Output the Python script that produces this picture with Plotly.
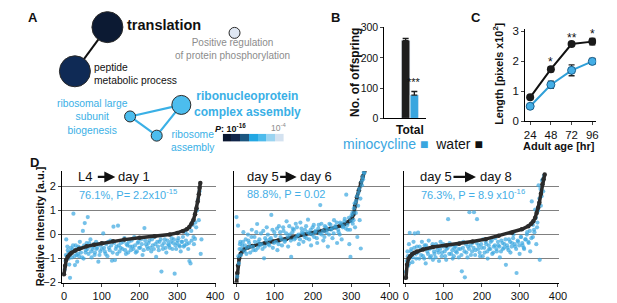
import plotly.graph_objects as go

W, H = 617, 303
FONT = "Arial, Liberation Sans, sans-serif"
BLUE = "#3aa6df"
DARK = "#1e1e1e"

# ---------------- Panel A: GO network ----------------
node_names = ["translation", "peptide metabolic process",
              "positive regulation of protein phosphorylation",
              "ribonucleoprotein complex assembly",
              "ribosomal large subunit biogenesis", "ribosome assembly"]
node_x = [108, 75, 237, 183, 131, 158]
node_y = [22, 68, 28, 103, 115, 135]
node_size = [31, 31, 11, 19, 11, 11]
node_color = ["#0c1a33", "#0f2a55", "#dfe7f3", "#4cbdee", "#4cbdee", "#4cbdee"]
edges_dark = [(0, 1)]
edges_blue = [(4, 3), (4, 5), (5, 3)]
pval_colors = ["#0b1730", "#10244a", "#1b5680", "#22a7e3", "#4dbbec", "#9bd4f1", "#d4e2f0"]
pval_levels = [0, 1, 2, 3, 4, 5, 6]

# ---------------- Panel B: offspring ----------------
b_groups = ["water", "minocycline"]
b_category = ["Total"]
b_values = [258, 77]
b_err = [7, 12]

# ---------------- Panel C: length ----------------
c_age = [24, 48, 72, 96]
c_water = [0.80, 1.74, 2.58, 2.66]
c_water_err = [0.05, 0.08, 0.05, 0.11]
c_mino = [0.50, 1.22, 1.70, 2.00]
c_mino_err = [0.05, 0.12, 0.18, 0.10]
c_stars = ["", "*", "**", "*"]
c_star_y = [0, 1.98, 2.78, 2.92]

# ---------------- Panel D: relative intensity ----------------
d1_bx = [0, 3, 6, 10, 15, 20, 30, 40, 60, 80, 100, 130, 160, 200, 240, 280, 300, 315, 325, 332,
         338, 343, 347, 351, 354, 357, 359, 361]
d1_by = [-1.65, -1.3, -1.05, -0.92, -0.83, -0.76, -0.66, -0.59, -0.49, -0.42, -0.36, -0.28, -0.21,
         -0.13, -0.07, 0.0, 0.07, 0.14, 0.22, 0.32, 0.45, 0.62, 0.85, 1.1, 1.38, 1.68, 1.95, 2.15]
d1_x = [2, 4, 6, 8, 10, 12, 14, 16, 18, 21, 23, 25, 27, 29, 31, 33, 35, 38, 40, 42, 45, 47, 50, 52,
        55, 58, 60, 63, 65, 68, 70, 73, 76, 79, 82, 85, 88, 91, 94, 97, 100, 104, 108, 112, 115,
        119, 123, 127, 131, 135, 139, 143, 147, 151, 155, 160, 164, 168, 172, 177, 181, 186, 190,
        195, 199, 204, 208, 213, 217, 222, 226, 231, 235, 240, 244, 249, 253, 258, 262, 267, 271,
        276, 280, 285, 289, 293, 297, 301, 305, 309, 313, 317, 321, 325, 329, 332, 335, 338, 341,
        344, 347, 350, 352, 355, 357, 359, 362, 364]
d1_y = [-1.45, -1.1, -0.2, -0.9, -0.65, -0.75, -1.25, -1.8, -0.55, -0.95, -0.6, 0.87, -0.7, -1.27,
        -0.45, -0.85, -1.13, -0.5, -0.9, -0.3, -0.75, -0.55, 0.15, -1.0, 0.48, -0.65, -0.35, 0.73,
        -0.8, -0.5, -0.2, -0.95, -0.6, -0.4, -0.75, -0.3, -0.55, -1.13, -0.85, -0.45, -0.6, 0.05,
        -0.7, -0.4, -0.9, -0.55, -0.25, -1.09, 0.33, -1.06, -0.5, 0.37, -0.7, -0.35, -0.6, -0.15,
        -0.8, -0.45, -0.3, -0.65, -0.5, -0.1, -0.75, -0.35, -0.55, -0.2, -0.85, 0.27, -0.4, -0.6,
        -0.25, -0.7, -0.45, -0.1, -0.93, -0.5, -0.3, -1.54, -0.6, -0.2, -0.75, -0.4, -0.55, -0.15,
        -0.35, -1.63, -0.6, -0.25, -0.45, -0.7, -0.3, -0.5, 0.1, -0.4, -0.6, -1.1, -1.2, -0.25, 0.4,
        -0.4, -0.18, 0.3, 1.0, 1.46, 0.6, 1.8, -0.8, -0.2]
d1_more = [(5, -0.85), (9, -0.5), (13, -1.0), (19, -0.7), (24, -0.45), (28, -0.9), (34, -0.6),
           (37, -0.8), (43, -0.55), (48, -0.95), (53, -0.45), (57, -0.75), (62, -0.6), (67, -0.35),
           (72, -0.7), (77, -0.5), (81, -0.85), (86, -0.6), (90, -0.4), (96, -0.7), (102, -0.35),
           (106, -0.55), (110, -0.8), (117, -0.3), (121, -0.65), (125, -0.45), (129, -0.75),
           (133, -0.35), (137, -0.6), (141, -0.8), (145, -0.45), (150, -0.55), (157, -0.3),
           (162, -0.65), (166, -0.4), (170, -0.75), (175, -0.5), (179, -0.25), (184, -0.6),
           (188, -0.45), (193, -0.7), (197, -0.3), (202, -0.55), (206, -0.4), (211, -0.65),
           (215, -0.25), (220, -0.5), (224, -0.35), (229, -0.55), (233, -0.2), (238, -0.6),
           (242, -0.4), (247, -0.3), (251, -0.65), (256, -0.2), (260, -0.45), (265, -0.35),
           (269, -0.55), (274, -0.25), (278, -0.45), (283, -0.3), (287, -0.6), (291, -0.2),
           (295, -0.45), (299, -0.35), (303, -0.15), (307, -0.5), (311, -0.3), (315, -0.1),
           (319, -0.45), (323, -0.25), (327, 0.0), (331, -0.35), (337, 0.15), (343, -0.1),
           (348, 0.5)]

d2_bx = [0, 2, 4, 7, 11, 15, 20, 30, 41, 60, 75, 95, 110, 130, 144, 160, 178, 195, 212, 230, 246,
         260, 272, 282, 290, 297, 302, 306, 310, 315, 320, 325, 330, 335]
d2_by = [-2.0, -1.6, -1.3, -1.0, -0.8, -0.7, -0.62, -0.54, -0.48, -0.4, -0.35, -0.29, -0.25, -0.18,
         -0.12, -0.06, 0.0, 0.05, 0.1, 0.17, 0.24, 0.31, 0.37, 0.43, 0.5, 0.58, 0.68, 0.85, 1.2,
         1.55, 1.85, 2.15, 2.42, 2.65]
d2_x = [0, 2, 4, 6, 8, 10, 12, 15, 18, 21, 24, 27, 30, 33, 36, 40, 43, 47, 50, 54, 57, 61, 64, 68,
        72, 75, 79, 83, 87, 91, 95, 99, 103, 107, 111, 115, 119, 123, 127, 131, 135, 139, 143, 147,
        151, 155, 159, 163, 167, 171, 175, 179, 183, 187, 191, 195, 199, 203, 207, 211, 215, 219,
        223, 227, 231, 235, 239, 243, 247, 251, 255, 259, 263, 267, 271, 275, 279, 283, 287, 291,
        295, 298, 301, 304, 307, 310, 313, 316, 319, 322, 325, 328, 331, 334]
d2_y = [0.73, -1.75, 0.37, -1.2, -0.6, -0.3, -0.85, -0.45, 0.1, -0.7, -0.2, -0.55, 0.0, -0.35,
        -0.75, 0.2, -0.5, -0.1, -0.65, 0.44, -0.3, -0.45, 0.05, -0.6, -0.99, -0.15, 0.3, -0.4,
        -0.2, 0.82, -0.55, 0.1, -0.3, -0.65, 0.35, -0.1, -0.45, 0.15, -0.25, 0.55, -0.5, 0.0, -0.93,
        0.25, -0.2, 0.45, -0.05, -0.4, 0.5, 0.1, -0.3, 0.2, -0.15, 0.62, 0.05, -0.45, 0.3, -0.1,
        0.15, -0.35, 0.4, 1.23, 0.0, -0.25, 0.35, 0.1, -0.5, 0.45, 0.2, -0.15, 0.6, 0.3, -0.35,
        0.1, 0.5, -0.2, 0.35, 0.65, 1.66, 0.2, -0.4, -0.93, 0.8, 0.45, 1.1, 0.3, 1.4, -0.1, 1.75,
        0.6, -0.58, 2.05, 2.3, 2.55]
d2_more = [(5, -0.9), (9, -0.4), (13, -0.6), (17, -0.3), (22, -0.45), (26, -0.8), (31, -0.25),
           (35, -0.5), (39, -0.1), (44, -0.65), (48, -0.3), (52, 0.1), (56, -0.55), (60, -0.2),
           (65, -0.4), (70, 0.15), (74, -0.5), (78, -0.25), (82, 0.0), (86, -0.45), (90, -0.15),
           (94, 0.2), (98, -0.35), (102, -0.05), (106, 0.25), (110, -0.4), (114, 0.1), (118, -0.2),
           (122, 0.3), (126, -0.3), (130, 0.05), (134, -0.1), (138, 0.35), (142, -0.25),
           (146, 0.1), (150, 0.2), (154, -0.15), (158, 0.3), (162, 0.0), (166, -0.2), (170, 0.25),
           (174, 0.05), (178, -0.1), (182, 0.35), (186, 0.1), (190, -0.2), (194, 0.2), (198, 0.0),
           (202, 0.4), (206, 0.1), (210, -0.15), (214, 0.25), (218, 0.05), (222, 0.45),
           (226, 0.15), (230, -0.1), (234, 0.3), (238, 0.2), (242, 0.0), (246, 0.4), (250, 0.25),
           (254, 0.05), (258, 0.35), (262, 0.5), (266, 0.2), (270, 0.0), (274, 0.45), (278, 0.3),
           (282, 0.55), (286, 0.25), (290, 0.4), (294, 0.7), (297, 0.2), (300, 0.55), (303, 0.9),
           (306, 0.6), (309, 1.3), (312, 0.9), (315, 1.6), (318, 1.2), (321, 1.9), (324, 1.5),
           (327, 2.2), (330, 2.4), (333, 2.6)]

d3_bx = [0, 3, 7, 11, 16, 22, 29, 45, 71, 106, 140, 175, 210, 244, 279, 305, 322, 330, 335, 340,
         344, 348, 351, 355, 359, 362, 365]
d3_by = [-1.8, -1.26, -1.0, -0.9, -0.82, -0.76, -0.71, -0.62, -0.52, -0.45, -0.38, -0.29, -0.19,
         -0.05, 0.08, 0.22, 0.35, 0.45, 0.55, 0.7, 0.9, 1.12, 1.33, 1.7, 2.1, 2.3, 2.5]
d3_x = [0, 2, 4, 6, 8, 10, 12, 14, 17, 20, 23, 26, 29, 32, 35, 38, 42, 45, 49, 52, 56, 60, 63, 67,
        71, 75, 79, 83, 87, 91, 95, 99, 103, 107, 111, 115, 119, 123, 127, 131, 135, 139, 143, 147,
        151, 155, 159, 163, 167, 171, 175, 179, 183, 187, 191, 195, 199, 203, 207, 211, 215, 219,
        223, 227, 231, 235, 239, 243, 247, 251, 255, 259, 263, 267, 271, 275, 279, 283, 287, 291,
        295, 299, 303, 307, 311, 315, 319, 323, 327, 331, 334, 337, 340, 343, 346, 349, 352, 355,
        358, 361]
d3_y = [-1.55, -1.1, -0.7, -1.3, -0.4, 0.07, -0.95, -0.6, -1.15, -0.3, 0.05, -0.8, -0.5, 0.08,
        -1.0, -0.65, -0.3, -0.9, -0.45, -1.2, -0.7, -0.25, -0.95, -0.55, -1.05, -0.8, -0.4, -0.65,
        -1.1, -0.3, -0.75, -0.5, -0.9, -0.6, 0.64, -0.35, -0.8, -1.0, -0.55, -0.7, -0.4, -0.95,
        -0.6, -1.53, -0.3, -1.78, -0.75, -0.5, 0.93, -0.85, -0.35, 0.93, -0.65, 0.64, -0.45, -0.9,
        -0.55, -0.2, -0.75, -0.4, -1.0, -0.6, -0.3, -0.8, -0.5, -0.15, -0.7, -0.45, -0.95, -0.25,
        -0.6, -0.4, -1.26, -0.55, -0.2, -0.75, -0.35, 0.0, -0.5, -1.6, -0.3, -0.8, -0.1, -0.45,
        -0.6, -0.2, 0.1, -0.35, -0.7, 1.38, -0.1, 0.2, 1.04, -0.4, 0.5, 2.05, -1.05, 1.2, 2.25, 1.8]
d3_more = [(5, -0.9), (9, -1.2), (13, -0.7), (18, -0.95), (22, -0.55), (27, -1.0), (31, -0.75),
           (36, -0.5), (40, -0.85), (44, -0.6), (48, -1.0), (53, -0.45), (58, -0.8), (62, -0.6),
           (66, -0.9), (70, -0.4), (74, -0.7), (78, -0.95), (82, -0.5), (86, -0.75), (90, -0.6),
           (94, -0.9), (98, -0.4), (102, -0.7), (106, -1.05), (110, -0.55), (114, -0.8),
           (118, -0.45), (122, -0.65), (126, -0.9), (130, -0.5), (134, -0.75), (138, -0.6),
           (142, -0.35), (146, -0.85), (150, -0.55), (154, -0.7), (158, -0.4), (162, -0.95),
           (166, -0.6), (170, -0.45), (174, -0.7), (178, -0.55), (182, -0.85), (186, -0.35),
           (190, -0.6), (194, -0.75), (198, -0.4), (202, -0.9), (206, -0.55), (210, -0.3),
           (214, -0.7), (218, -0.45), (222, -0.6), (226, -0.25), (230, -0.75), (234, -0.45),
           (238, -0.6), (242, -0.3), (246, -0.5), (250, -0.7), (254, -0.35), (258, -0.55),
           (262, -0.2), (266, -0.45), (270, -0.65), (274, -0.3), (278, -0.5), (282, -0.15),
           (286, -0.4), (290, -0.6), (294, -0.25), (298, -0.45), (302, -0.1), (306, -0.35),
           (310, -0.55), (314, -0.2), (318, 0.0), (322, -0.3), (326, 0.15), (330, -0.15),
           (334, 0.4), (338, 0.1), (342, 0.7), (345, 0.3), (348, 1.0), (351, 1.5), (354, 1.9),
           (357, 1.6), (360, 2.3), (363, 2.45)]

d_titles = [("L4", "day 1"), ("day 5", "day 6"), ("day 5", "day 8")]
d_stats = ["76.1%, P= 2.2x10<sup>-15</sup>", "88.8%, P = 0.02", "76.3%, P = 8.9 x10<sup>-16</sup>"]


def px(x):
    return x / W


def py(y):
    return 1 - y / H


fig = go.Figure()

# ---- Panel A traces ----
for edges, col, wd in [(edges_dark, "#111111", 2), (edges_blue, "#3ab0e6", 2.2)]:
    ex, ey = [], []
    for a, b in edges:
        ex += [node_x[a], node_x[b], None]
        ey += [node_y[a], node_y[b], None]
    fig.add_trace(go.Scatter(x=ex, y=ey, mode="lines", line=dict(color=col, width=wd),
                             xaxis="x", yaxis="y", hoverinfo="skip", showlegend=False))
fig.add_trace(go.Scatter(x=node_x, y=node_y, mode="markers", text=node_names, opacity=1,
                         marker=dict(size=node_size, color=node_color, opacity=1,
                                     line=dict(color="#2a2a2a", width=1)),
                         xaxis="x", yaxis="y", showlegend=False))
cs = []
for i, c in enumerate(pval_colors):
    cs += [[i / len(pval_colors), c], [(i + 1) / len(pval_colors), c]]
fig.add_trace(go.Heatmap(z=[pval_levels], x=pval_levels, y=[0], colorscale=cs, zmin=-0.5,
                         zmax=len(pval_colors) - 0.5, showscale=False, xgap=0,
                         xaxis="x2", yaxis="y2"))

# ---- Panel B ----
fig.add_trace(go.Bar(x=b_category, y=[b_values[0]], name=b_groups[0], marker_color=DARK,
                     error_y=dict(type="data", array=[b_err[0]], arrayminus=[0], symmetric=False,
                                  color=DARK, thickness=1.3, width=3),
                     xaxis="x3", yaxis="y3", showlegend=False))
fig.add_trace(go.Bar(x=b_category, y=[b_values[1]], name=b_groups[1], marker_color=BLUE,
                     error_y=dict(type="data", array=[b_err[1]], arrayminus=[0], symmetric=False,
                                  color=DARK, thickness=1.3, width=3),
                     xaxis="x3", yaxis="y3", showlegend=False))

# ---- Panel C ----
fig.add_trace(go.Scatter(x=c_age, y=c_water, mode="lines+markers",
                         line=dict(color="#111111", width=2),
                         marker=dict(size=8, color="#1a1a1a"),
                         error_y=dict(type="data", array=c_water_err, color="#111111",
                                      thickness=1.3, width=3),
                         xaxis="x4", yaxis="y4", showlegend=False))
fig.add_trace(go.Scatter(x=c_age, y=c_mino, mode="lines+markers",
                         line=dict(color="#2f9fd8", width=2),
                         marker=dict(size=8, color="#44aee6", line=dict(color="#1d5f8a", width=1)),
                         error_y=dict(type="data", array=c_mino_err, color="#222222",
                                      thickness=1.3, width=3),
                         xaxis="x4", yaxis="y4", showlegend=False))

# ---- Panel D ----
dsets = [(d1_bx, d1_by, d1_x, d1_y, d1_more, False), (d2_bx, d2_by, d2_x, d2_y, d2_more, True),
         (d3_bx, d3_by, d3_x, d3_y, d3_more, False)]
for i, (bx, by, sx, sy, more, blue_on_top) in enumerate(dsets):
    ax = "x%d" % (5 + i)
    ay = "y%d" % (5 + i)
    allx = list(sx) + [p[0] for p in more]
    ally = list(sy) + [p[1] for p in more]
    blue = go.Scatter(x=allx, y=ally, mode="markers",
                      marker=dict(size=4.2, color=BLUE, opacity=0.7),
                      xaxis=ax, yaxis=ay, showlegend=False)
    black = go.Scatter(x=bx, y=by, mode="lines+markers",
                       line=dict(color="#2b2b2b", width=3.5),
                       marker=dict(size=4.5, color="#2b2b2b"),
                       xaxis=ax, yaxis=ay, showlegend=False)
    if blue_on_top:
        fig.add_trace(black)
        fig.add_trace(blue)
    else:
        fig.add_trace(blue)
        fig.add_trace(black)

hidden = dict(visible=False)
layout = dict(
    width=W, height=H, margin=dict(l=0, r=0, t=0, b=0),
    paper_bgcolor="white", plot_bgcolor="white",
    font=dict(family=FONT, color="#111111"),
    barmode="group", bargap=0.58, bargroupgap=0.05,
    xaxis=dict(domain=[0, px(330)], range=[0, 330], **hidden),
    yaxis=dict(domain=[py(150), 1], range=[150, 0], **hidden),
    xaxis2=dict(domain=[px(225), px(287)], range=[-0.5, 6.5], **hidden),
    yaxis2=dict(domain=[py(141), py(133)], range=[-0.5, 0.5], **hidden),
    xaxis3=dict(domain=[px(389), px(431)], range=[-0.62, 0.38], showline=True,
                linecolor="black", linewidth=1, ticks="", showgrid=False,
                tickfont=dict(size=12, family=FONT, color="#111"), anchor="y3",
                tickprefix="<b>", ticksuffix="</b>"),
    yaxis3=dict(domain=[py(117), py(22)], range=[0, 302], tickvals=[0, 100, 200, 300],
                showline=True, linecolor="black", linewidth=1, ticks="outside", ticklen=3,
                showgrid=False, zeroline=False, tickfont=dict(size=10.5), anchor="x3"),
    xaxis4=dict(domain=[px(532), px(604)], range=[18.3, 100.5], tickvals=c_age,
                showline=True, linecolor="black", linewidth=1, ticks="outside", ticklen=3,
                showgrid=False, zeroline=False, tickfont=dict(size=11.5), anchor="y4"),
    yaxis4=dict(domain=[py(120), py(24)], range=[0, 3.08], tickvals=[0, 1, 2, 3],
                showline=True, linecolor="black", linewidth=1, ticks="outside", ticklen=3,
                showgrid=False, zeroline=False, tickfont=dict(size=11.5), anchor="x4"),
)
d_dom = [(62, 218, -5), (236, 395, -7.7), (409, 566, -5)]
for i, (l, r, x0) in enumerate(d_dom):
    k = 5 + i
    layout["xaxis%d" % k] = dict(domain=[px(l), px(r)], range=[x0, 402],
                                 tickvals=[0, 100, 200, 300, 400], showline=True,
                                 linecolor="black", linewidth=1, ticks="outside", ticklen=3,
                                 showgrid=False, zeroline=False, tickfont=dict(size=11),
                                 anchor="y%d" % k)
    layout["yaxis%d" % k] = dict(domain=[py(288), py(172)], range=[-2, 2.64],
                                 tickvals=[-2, -1, 0, 1, 2], showline=True, linecolor="black",
                                 linewidth=1, ticks="outside" if i == 0 else "", ticklen=3,
                                 showticklabels=(i == 0), showgrid=True, gridcolor="#808080",
                                 gridwidth=1, zeroline=False, tickfont=dict(size=11),
                                 anchor="x%d" % k)
fig.update_layout(**layout)

ann = []


def text(x, y, t, size, color="#111111", xanchor="left", bold=False, angle=0, align="left"):
    if bold:
        t = "<b>" + t + "</b>"
    if xanchor == "left":
        x -= 3
    ann.append(dict(x=px(x), y=py(y), xref="paper", yref="paper", text=t, showarrow=False,
                    xanchor=xanchor, yanchor="middle", align=align, textangle=angle,
                    font=dict(size=size, color=color, family=FONT)))


# panel letters
text(28, 12, "A", 13, bold=True)
text(336, 12, "B", 13, bold=True)
text(478, 12, "C", 13, bold=True)
text(30, 163, "D", 13, bold=True)

# panel A labels
text(129, 20, "translation", 14.5, bold=True)
text(95, 71, "peptide<br>metabolic process", 10.3)
text(235, 45, "Positive regulation<br>of protein phosphorylation", 10, color="#8c8c8c",
     xanchor="center", align="center")
text(250, 102, "ribonucleoprotein<br>complex assembly", 12, color="#3ab0e6", bold=True,
     xanchor="center", align="center")
text(93, 116, "ribosomal large<br>subunit<br>biogenesis", 10.3, color="#3ab0e6",
     xanchor="center", align="center")
text(195, 141, "ribosome<br>assembly", 10.3, color="#3ab0e6", xanchor="center", align="center")
text(218, 127, "<i>P</i>: 10<sup>-16</sup>", 9, bold=True)
text(275, 127, "10<sup>-4</sup>", 8.5, color="#8c8c8c")

# panel B labels
text(360, 69, "No. of offspring", 12, bold=True, xanchor="center", angle=-90)
ann.append(dict(x="Total", y=b_values[1] + b_err[1], xref="x3", yref="y3", text="***",
                showarrow=False, xshift=4, yshift=9, font=dict(size=11, color="#111")))
text(348, 143.5, "<span style='color:%s'>minocycline ■</span>  water ■" % BLUE, 14)

# panel C labels
text(505, 71, "<b>Length [pixels x10<sup>2</sup>]</b>", 10.8, xanchor="center", angle=-90)
text(566, 146, "Adult age [hr]", 11, bold=True, xanchor="center")
for xa, s, yv in zip(c_age, c_stars, c_star_y):
    if s:
        ann.append(dict(x=xa, y=yv, xref="x4", yref="y4", text=s, showarrow=False,
                        font=dict(size=12, color="#111")))

# panel D labels
text(39, 229, "Relative Intensity [a.u.]", 11, bold=True, xanchor="center", angle=-90)
d_txt = [(79, 97, 116, 120, 80), (251, 282, 300, 304, 251), (426, 458, 482, 487, 427)]
for (t1, t2), st, (xa, a0, a1, xb, xs) in zip(d_titles, d_stats, d_txt):
    text(xa, 178, t1, 13)
    text(xb, 178, t2, 13)
    text(xs, 196, st, 11, color="#44aee6")
    ann.append(dict(x=px(a1), y=py(178), xref="paper", yref="paper", ax=a0 - a1, ay=0,
                    axref="pixel", ayref="pixel", text="", showarrow=True, arrowhead=2,
                    arrowsize=1, arrowwidth=2.2, arrowcolor="#111"))

fig.update_layout(annotations=ann)
fig.write_html("out.html", config={"displayModeBar": False},
               post_script="document.body.style.margin='0px';"
                           "document.body.style.overflow='hidden';")
